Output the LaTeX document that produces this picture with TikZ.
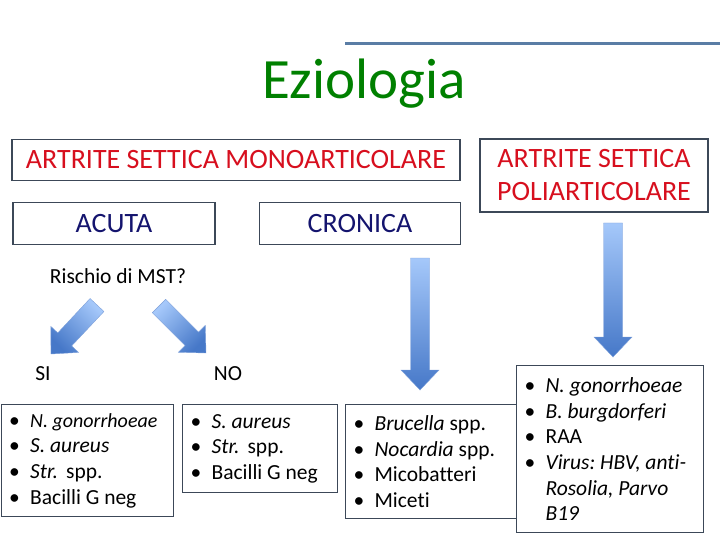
\documentclass[tikz,border=0pt]{standalone}
\usepackage{fontspec}
\setmainfont{Carlito}[Ligatures=NoCommon]
\usetikzlibrary{calc}
\frenchspacing
\definecolor{titlegreen}{RGB}{0,128,0}
\definecolor{hdrred}{RGB}{215,15,30}
\definecolor{hdrnavy}{RGB}{20,20,110}
\definecolor{boxline}{RGB}{60,72,88}
\definecolor{rulebar}{RGB}{90,125,165}
\definecolor{arrlight}{RGB}{165,200,250}
\definecolor{arrdark}{RGB}{70,120,200}
\tikzset{
  hdr/.style={draw=boxline,line width=1.2pt,inner sep=0pt,font=\fontsize{28}{33}\selectfont},
  lst/.style={draw=boxline,line width=1.2pt,align=flush left,inner xsep=8pt,anchor=north west,font=\fontsize{21.5}{25.7}\selectfont},
  lbl/.style={font=\fontsize{21.5}{25.7}\selectfont}
}
\newcommand{\itm}{\makebox[21pt][l]{\textbullet}}
% fat shaded arrow: tail, tip, shading angle
\newcommand{\fatarrow}[3]{%
  \coordinate (hb) at ($(#2)!20pt!(#1)$);
  \shade[top color=arrlight,bottom color=arrdark,shading angle=#3,draw=arrdark!70,line width=0.4pt]
    ($(#1)!9.5pt!90:(#2)$) -- ($(hb)!9.5pt!90:(#2)$) -- ($(hb)!19pt!90:(#2)$) -- (#2)
    -- ($(hb)!19pt!-90:(#2)$) -- ($(hb)!9.5pt!-90:(#2)$) -- ($(#1)!9.5pt!-90:(#2)$) -- cycle;}
\begin{document}
\begin{tikzpicture}[x=1pt,y=-1pt]
\useasboundingbox (0,0) rectangle (720,540);
\draw[rulebar,line width=3pt] (345,44) -- (720,44);
\node[titlegreen,font=\fontsize{57}{60}\selectfont] (title) at (364,84) {Eziologia};
% header boxes
\node[hdr,hdrred,draw=boxline,minimum width=448,minimum height=41] (mono) at (236,160) {ARTRITE SETTICA MONOARTICOLARE};
\node[hdr,hdrred,draw=boxline,align=center,minimum width=228,minimum height=73] (poli) at (594,175.5) {ARTRITE SETTICA\\POLIARTICOLARE};
\node[hdr,hdrnavy,draw=boxline,minimum width=202,minimum height=42] (acuta) at (114,223.5) {ACUTA};
\node[hdr,hdrnavy,draw=boxline,minimum width=201,minimum height=42] (cronica) at (360,223.5) {CRONICA};
\node[lbl] (rischio) at (118,276) {Rischio di MST?};
\node[lbl] (si) at (43,374) {SI};
\node[lbl] (no) at (228,374) {NO};
% lists
\node[lst,text width=156,minimum height=112] (lsi) at (0.6,404) {\itm{\fontsize{20}{25.7}\selectfont\textit{N. gonorrhoeae}}\\ \itm\textit{S. aureus}\\ \itm\textit{Str.}\hspace{8pt}spp.\\ \itm Bacilli G neg};
\node[lst,text width=139,minimum height=88] (lno) at (182,404) {\itm\textit{S. aureus}\\ \itm\textit{Str.}\hspace{8pt}spp.\\ \itm Bacilli G neg};
\node[lst,text width=156,minimum height=114] (lcro) at (345,404) {\itm\textit{Brucella} spp.\\ \itm\textit{Nocardia} spp.\\ \itm Micobatteri\\ \itm Miceti};
\node[lst,fill=white,text width=171,minimum height=167] (lpoli) at (516,365) {\itm\textit{N. gonorrhoeae}\\ \itm\textit{B. burgdorferi}\\ \itm RAA\\ \itm\textit{Virus: HBV, anti-}\\ \hspace*{21pt}\textit{Rosolia, Parvo}\\ \hspace*{21pt}\textit{B19}};
% arrows
\coordinate (tsi) at (97,305);  \coordinate (hsi) at (51,354);
\coordinate (tno) at (159,306); \coordinate (hno) at (206,353);
\coordinate (tcro) at (420,258); \coordinate (hcro) at (420,390);
\coordinate (tpoli) at (613,223); \coordinate (hpoli) at (613,357);
\fatarrow{tsi}{hsi}{-45}
\fatarrow{tno}{hno}{45}
\fatarrow{tcro}{hcro}{0}
\fatarrow{tpoli}{hpoli}{0}
\end{tikzpicture}
\end{document}
